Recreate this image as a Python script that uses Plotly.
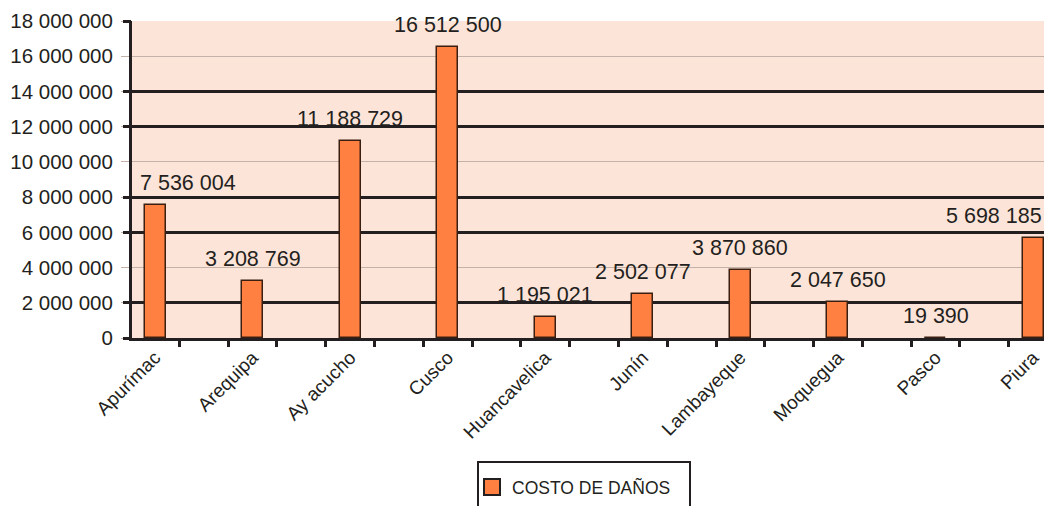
import plotly.graph_objects as go

# ---- data ----
categories = ["Apurímac", "Arequipa", "Ay acucho", "Cusco", "Huancavelica",
              "Junín", "Lambayeque", "Moquegua", "Pasco", "Piura"]
costo_danos = [7536004, 3208769, 11188729, 16512500, 1195021,
               2502077, 3870860, 2047650, 19390, 5698185]
series_name = "COSTO DE DAÑOS"
y_tick_values = [0, 2000000, 4000000, 6000000, 8000000, 10000000,
                 12000000, 14000000, 16000000, 18000000]
y_tick_labels = ["0", "2 000 000", "4 000 000", "6 000 000", "8 000 000",
                 "10 000 000", "12 000 000", "14 000 000", "16 000 000", "18 000 000"]
thick_grid_values = [0, 2000000, 6000000, 8000000, 12000000, 14000000, 18000000]

# ---- style ----
W, H = 1044, 506
ML, MR, MT, MB = 132, 0, 21, 168
PW, PH = W - ML - MR, H - MT - MB
FONT = "Liberation Sans, Arial, sans-serif"
TXT = "#231F20"
BAR = "#FF8040"
BAR_LINE = "#3A1E10"
BG = "#FDE4D8"
THIN = "#C4B2A8"

x_idx = list(range(len(categories)))
x_range = [-0.236, 9.112]
px_per_unit = PW / (x_range[1] - x_range[0])

fig = go.Figure()
fig.add_trace(go.Bar(
    x=x_idx, y=costo_danos, width=0.215,
    marker=dict(color=BAR, line=dict(color=BAR_LINE, width=1.5)),
    name=series_name, showlegend=False, xaxis="x", yaxis="y",
))
# legend proxy (also anchors the overlay axes)
fig.add_trace(go.Scatter(
    x=[None], y=[None], mode="markers", name=series_name,
    marker=dict(symbol="square", size=16, color=BAR, line=dict(color=TXT, width=2)),
    xaxis="x2", yaxis="y2", showlegend=True,
))

# data labels (kept inside the chart horizontally, like the original)
annotations = []
lbl_size = 21.5
for i, v in zip(x_idx, costo_danos):
    txt = f"{v:,}".replace(",", " ")
    est_w = lbl_size * (0.556 * sum(c.isdigit() for c in txt) + 0.278 * txt.count(" "))
    center_px = (i - x_range[0]) * px_per_unit
    shift = max(0.0, 8 - (center_px - est_w / 2))
    shift = min(shift, (PW - 2) - (center_px + est_w / 2))
    annotations.append(dict(
        x=i, y=v, xref="x", yref="y", text=txt, showarrow=False,
        yanchor="bottom", yshift=8, xshift=shift,
        font=dict(family=FONT, size=lbl_size, color=TXT),
    ))

tick_marks = [k * 0.5 + 0.25 for k in range(2 * len(categories))]

fig.update_layout(
    width=W, height=H,
    margin=dict(l=ML, r=MR, t=MT, b=MB, autoexpand=False),
    paper_bgcolor="white", plot_bgcolor=BG,
    font=dict(family=FONT, color=TXT),
    bargap=0,
    xaxis=dict(
        range=x_range, tickmode="array", tickvals=x_idx, ticktext=categories,
        tickangle=-45, ticks="", automargin=False, ticklabelstandoff=-2,
        tickfont=dict(family=FONT, size=19, color=TXT),
        showgrid=False, zeroline=False, showline=True, linecolor=TXT, linewidth=3,
    ),
    xaxis2=dict(
        range=x_range, overlaying="x", anchor="y", side="bottom", automargin=False,
        tickmode="array", tickvals=tick_marks, showticklabels=False,
        ticks="outside", ticklen=8, tickwidth=3, tickcolor=TXT,
        showgrid=False, zeroline=False, showline=False,
    ),
    yaxis=dict(
        range=[0, 18000000], tickmode="array", tickvals=y_tick_values, ticktext=y_tick_labels,
        ticks="outside", ticklen=8, tickwidth=1, tickcolor=THIN, automargin=False,
        ticklabelstandoff=4,
        tickfont=dict(family=FONT, size=20.5, color=TXT),
        showgrid=True, gridcolor=THIN, gridwidth=1,
        zeroline=False, showline=True, linecolor=TXT, linewidth=3,
    ),
    yaxis2=dict(
        range=[0, 18000000], overlaying="y", anchor="x", side="left", automargin=False,
        tickmode="array", tickvals=thick_grid_values, showticklabels=False,
        ticks="outside", ticklen=8, tickwidth=3, tickcolor=TXT,
        showgrid=True, gridcolor=TXT, gridwidth=3, zeroline=False, showline=False,
    ),
    showlegend=True,
    legend=dict(
        x=(472 - ML) / PW, xanchor="left",
        y=(MT + PH - 487) / PH, yanchor="middle",
        bgcolor="rgba(0,0,0,0)", borderwidth=0,
        font=dict(family=FONT, size=17.5, color=TXT),
        itemsizing="trace",
    ),
    annotations=annotations,
    shapes=[dict(
        type="rect", xref="paper", yref="paper",
        x0=(478 - ML) / PW, x1=(690 - ML) / PW,
        y0=(MT + PH - 462) / PH, y1=(MT + PH - 530) / PH,
        line=dict(color=TXT, width=2), fillcolor="rgba(0,0,0,0)",
    )],
)

fig.write_html(
    "out.html",
    config={"displayModeBar": False},
    post_script="document.body.style.margin='0';document.body.style.overflow='hidden';",
)
